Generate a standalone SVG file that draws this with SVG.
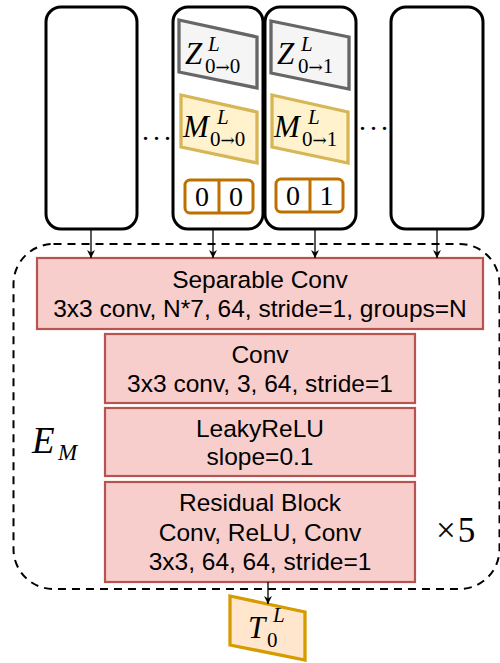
<svg xmlns="http://www.w3.org/2000/svg" width="500" height="663" viewBox="0 0 500 663">
<style>
.col{fill:#fff;stroke:#000;stroke-width:3}
.z{fill:#f5f5f5;stroke:#666;stroke-width:3.3}
.m{fill:#fff2cc;stroke:#d6b656;stroke-width:3.3}
.bit{fill:#fff;stroke:#bd7000;stroke-width:3}
.blk{fill:#f8cecc;stroke:#b85450;stroke-width:2.2}
.t{fill:#ffe6cc;stroke:#d79b00;stroke-width:3.3}
.lbl{font-family:"Liberation Sans",Arial,sans-serif;font-size:24.5px;fill:#000;text-anchor:middle}
.mi{font-family:"Liberation Serif","DejaVu Serif",serif;font-style:italic;fill:#000}
.mr{font-family:"Liberation Serif","DejaVu Serif",serif;fill:#000}
.dots{font-family:"Liberation Serif",serif;font-size:28px;letter-spacing:4px;fill:#000}
.edge{stroke:#000;stroke-width:1.3;fill:none;marker-end:url(#ah)}
</style>
<defs>
<marker id="ah" markerWidth="10" markerHeight="10" refX="8" refY="5" orient="auto" markerUnits="userSpaceOnUse">
<path d="M0,1 L8,5 L0,9 L2.5,5 Z" fill="#000"/>
</marker>
</defs>

<g id="encoder-frame">
<rect x="13.5" y="244" width="486" height="345" rx="40" fill="none" stroke="#000" stroke-width="2" stroke-dasharray="8,6"/>
<text class="mi" x="32" y="453" font-size="37">E</text>
<text class="mi" x="58" y="460" font-size="23">M</text>
<text class="mr" x="436" y="542" font-size="35">×<tspan dx="2">5</tspan></text>
</g>

<g id="col1">
<rect class="col" x="46" y="7" width="91" height="222" rx="15"/>
</g>
<text id="dots1" class="dots" x="142" y="140">...</text>

<g id="col2">
<rect class="col" x="173" y="7" width="90" height="222" rx="15"/>
<polygon class="z" points="179,20 257,37 257,88 179,72"/>
<text class="mi" x="185" y="64" font-size="31">Z</text>
<text class="mi" x="208" y="51" font-size="21">L</text>
<text class="mr" x="205" y="73" font-size="21">0<tspan font-family="DejaVu Serif" font-size="17">→</tspan>0</text>
<polygon class="m" points="181,95 257,112 257,163 181,147"/>
<text class="mi" x="183" y="137" font-size="31">M</text>
<text class="mi" x="217" y="124" font-size="21">L</text>
<text class="mr" x="210" y="146" font-size="21">0<tspan font-family="DejaVu Serif" font-size="17">→</tspan>0</text>
<rect class="bit" x="185" y="180" width="68" height="33" rx="5"/>
<line x1="219" y1="180" x2="219" y2="213" stroke="#bd7000" stroke-width="3"/>
<text class="mr" x="202" y="206" font-size="28" text-anchor="middle">0</text>
<text class="mr" x="236" y="206" font-size="28" text-anchor="middle">0</text>
</g>

<g id="col3">
<rect class="col" x="265" y="7" width="91" height="222" rx="15"/>
<polygon class="z" points="271,21 349,37 349,89 271,73"/>
<text class="mi" x="277" y="64" font-size="31">Z</text>
<text class="mi" x="301" y="51" font-size="21">L</text>
<text class="mr" x="298" y="73" font-size="21">0<tspan font-family="DejaVu Serif" font-size="17">→</tspan>1</text>
<polygon class="m" points="272,95 348,112 348,163 272,147"/>
<text class="mi" x="274" y="137" font-size="31">M</text>
<text class="mi" x="308" y="124" font-size="21">L</text>
<text class="mr" x="302" y="146" font-size="21">0<tspan font-family="DejaVu Serif" font-size="17">→</tspan>1</text>
<rect class="bit" x="276" y="179" width="67" height="33" rx="5"/>
<line x1="310" y1="179" x2="310" y2="212" stroke="#bd7000" stroke-width="3"/>
<text class="mr" x="293" y="205" font-size="28" text-anchor="middle">0</text>
<text class="mr" x="326.5" y="205" font-size="28" text-anchor="middle">1</text>
</g>
<text id="dots2" class="dots" x="359" y="130">...</text>

<g id="col4">
<rect class="col" x="391" y="7" width="92" height="222" rx="15"/>
</g>

<g id="sepconv">
<rect class="blk" x="37" y="258" width="446" height="71"/>
<text class="lbl" x="260" y="287.5">Separable Conv</text>
<text class="lbl" x="260" y="316.5">3x3 conv, N*7, 64, stride=1, groups=N</text>
</g>
<g id="conv">
<rect class="blk" x="105" y="334" width="310" height="69"/>
<text class="lbl" x="260" y="362.5">Conv</text>
<text class="lbl" x="260" y="391.5">3x3 conv, 3, 64, stride=1</text>
</g>
<g id="leaky">
<rect class="blk" x="105" y="408" width="310" height="68"/>
<text class="lbl" x="260" y="436.5">LeakyReLU</text>
<text class="lbl" x="260" y="465">slope=0.1</text>
</g>
<g id="resblock">
<rect class="blk" x="105" y="482" width="310" height="100"/>
<text class="lbl" x="260" y="511">Residual Block</text>
<text class="lbl" x="260" y="540.5">Conv, ReLU, Conv</text>
<text class="lbl" x="260" y="569.5">3x3, 64, 64, stride=1</text>
</g>

<g id="output">
<polygon class="t" points="230,596 305,612 305,660 230,645"/>
<text class="mi" x="248" y="638" font-size="31">T</text>
<text class="mi" x="273" y="622" font-size="21">L</text>
<text class="mr" x="267" y="647" font-size="21">0</text>
</g>

<g id="connectors">
<line class="edge" x1="91" y1="229" x2="91" y2="258"/>
<line class="edge" x1="213" y1="229" x2="213" y2="258"/>
<line class="edge" x1="315" y1="229" x2="315" y2="258"/>
<line class="edge" x1="437" y1="229" x2="437" y2="258"/>
<line class="edge" x1="268" y1="582" x2="268" y2="604"/>
</g>
</svg>
